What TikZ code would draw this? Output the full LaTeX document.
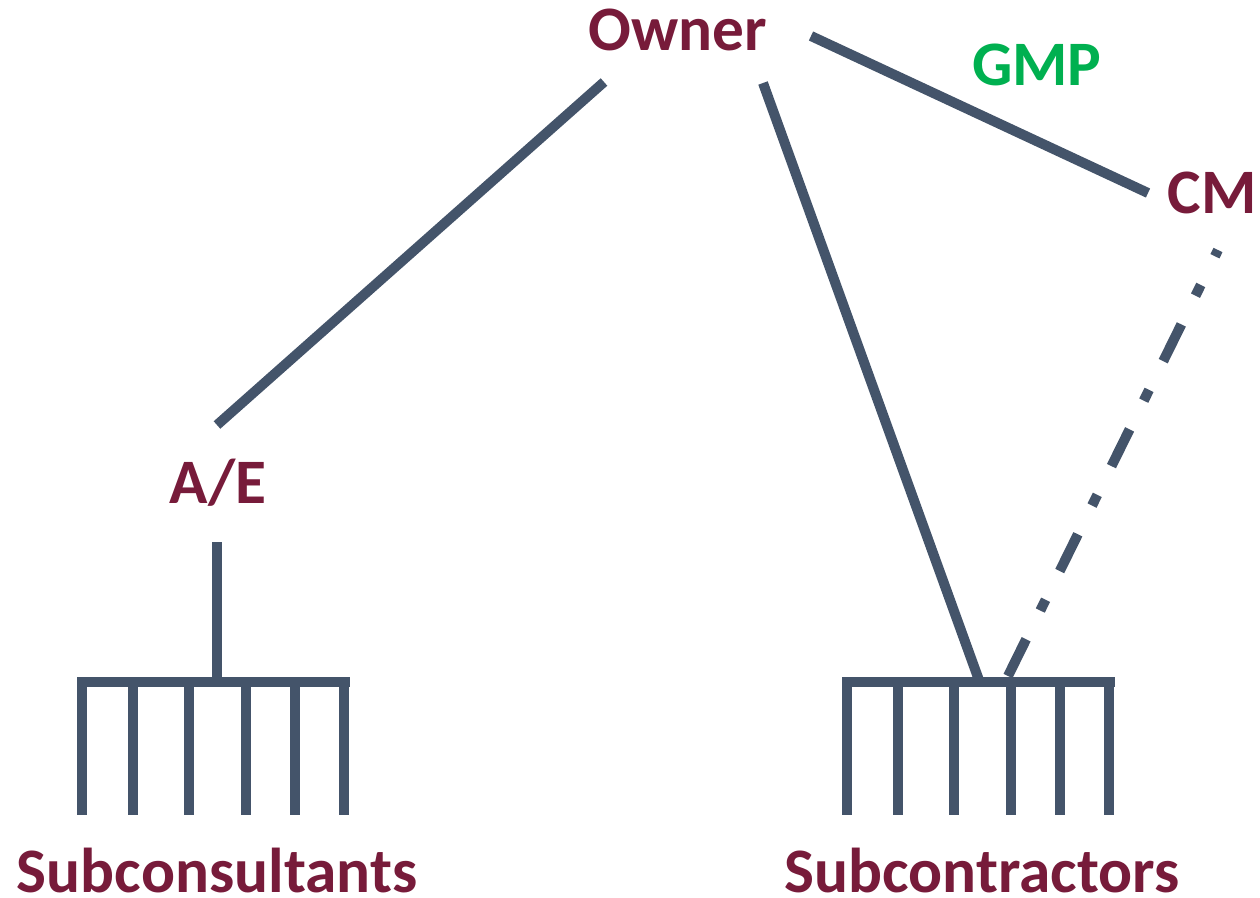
\documentclass[tikz,border=0pt]{standalone}
\usepackage{fontspec}
\setmainfont{Carlito}
\definecolor{linkgray}{HTML}{44546A}
\definecolor{partyred}{HTML}{771B3A}
\definecolor{gmpgreen}{HTML}{00B050}
\begin{document}
\begin{tikzpicture}[x=0.75pt,y=-0.75pt,
  party/.style={anchor=base,inner sep=0pt,text=partyred,text depth=0pt,
    font=\fontsize{47.5pt}{50pt}\selectfont\bfseries},
  note/.style={party,text=gmpgreen},
  link/.style={draw=linkgray,line width=7.5pt,line cap=butt},
  sublink/.style={link,dash pattern=on 30.75pt off 24pt on 9pt off 24pt}]
\useasboundingbox (0,0) rectangle (1260,897);

% parties
\node[party] (owner) at (678,50) {Owner};
\node[party] (cm) at (1212,213) {CM};
\node[party] (ae) at (218,503) {A/E};
\node[party] (subcons) at (217,892) {Subconsultants};
\node[party] (subcontr) at (982,892) {Subcontractors};
\node[note] (gmp) at (1037,85) {GMP};

% line end points around the parties
\coordinate (owner-ae) at (604,82);
\coordinate (owner-sub) at (763,83);
\coordinate (owner-cm) at (811,36);
\coordinate (cm-owner) at (1148,193);
\coordinate (cm-sub) at (1218,250);
\coordinate (ae-owner) at (217,425);
\coordinate (ae-top) at (217,542);
\coordinate (ae-bottom) at (217,677);
\coordinate (sub-owner) at (980,683);
\coordinate (sub-cm) at (1008,676);

% contract links
\draw[link] (owner-ae) -- (ae-owner);
\draw[link] (owner-sub) -- (sub-owner);
\draw[link] (owner-cm) -- (cm-owner);
\draw[sublink] (sub-cm) -- (cm-sub);
\draw[link] (ae-top) -- (ae-bottom);

% comb of subconsultants
\draw[link] (77,682) -- (350,682);
\foreach \x in {82,133,188.5,246,294.5,343.5}
  \draw[link] (\x,682) -- (\x,815);

% comb of subcontractors
\draw[link] (842,682) -- (1115,682);
\foreach \x in {847,898,953.5,1011,1059.5,1108.5}
  \draw[link] (\x,682) -- (\x,815);
\end{tikzpicture}
\end{document}
